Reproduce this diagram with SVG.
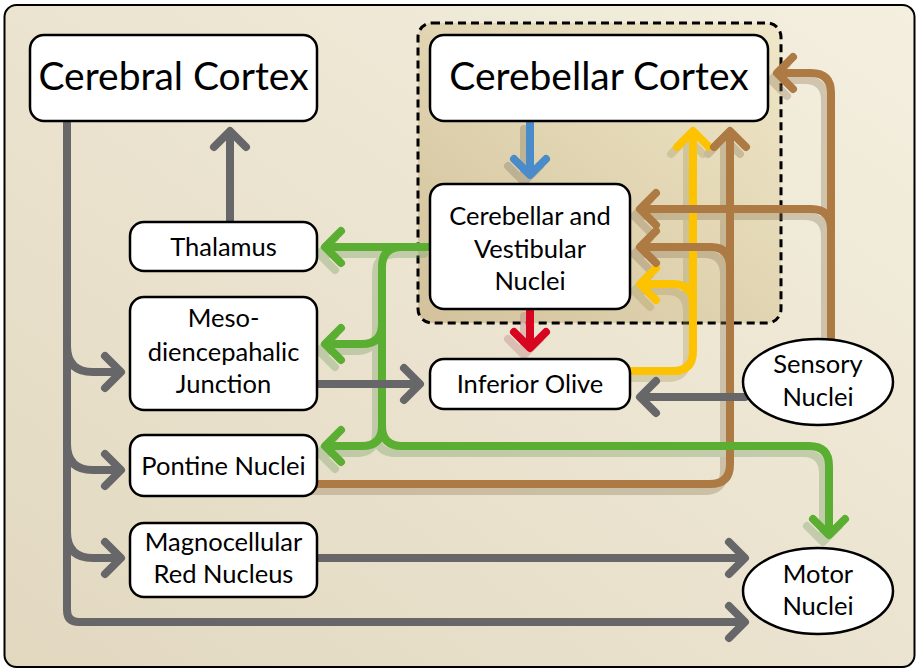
<svg xmlns="http://www.w3.org/2000/svg" xmlns:xlink="http://www.w3.org/1999/xlink" width="917" height="669" viewBox="0 0 917 669">
<defs>
<linearGradient id="bg" x1="0" y1="1" x2="1" y2="0">
<stop offset="0" stop-color="#e2d8c0"/>
<stop offset="1" stop-color="#f4efdf"/>
</linearGradient>
<linearGradient id="cb" x1="0" y1="1" x2="1" y2="0">
<stop offset="0" stop-color="#d3c29c"/>
<stop offset="1" stop-color="#efe7c8"/>
</linearGradient>
<path id="b1" d="M530,122 V173 M514,159 L530,175 L546,159"/>
<path id="r1" d="M530,309 V346 M514,332 L530,348 L546,332"/>
<path id="y1" d="M630,371 H673 Q693,371 693,351 V133 M677,147 L693,131 L709,147"/>
<path id="y2" d="M693,304 Q693,284 673,284 H642 M656,268 L640,284 L656,300"/>
<path id="br1" d="M317,484 H710 Q730,484 730,464 V133 M714,147 L730,131 L746,147"/>
<path id="br2" d="M730,267 Q730,247 710,247 H642 M656,231 L640,247 L656,263"/>
<path id="br3" d="M831,345 V93 Q831,73 811,73 H779 M793,57 L777,73 L793,89"/>
<path id="br4" d="M831,229 Q831,209 811,209 H642 M656,193 L640,209 L656,225"/>
<path id="g1" d="M430,247 H327 M341,231 L325,247 L341,263"/>
<path id="g2" d="M402,247 Q382,247 382,267 V426 Q382,446 402,446 H809 Q829,446 829,466 V533 M813,519 L829,535 L845,519"/>
<path id="g3" d="M382,324 Q382,344 362,344 H327 M341,328 L325,344 L341,360"/>
<path id="g4" d="M382,426 Q382,446 362,446 H327 M341,430 L325,446 L341,462"/>
</defs>
<style>
.frame{fill:url(#bg);stroke:#000;stroke-width:2}
.cbox{fill:url(#cb);stroke:#000;stroke-width:3;stroke-dasharray:8 5}
.node rect,.node ellipse{fill:#fff;stroke:#000;stroke-width:2.5}
.node text{font-family:Lato,"Open Sans",sans-serif;fill:#000;text-anchor:middle}
.big{font-size:39px}
.sm{font-size:25.5px}
#connectors path,#connectors use{fill:none;stroke-width:8;stroke-linecap:round;stroke-linejoin:round}
.gray{stroke:#67676a}
.blue{stroke:#4a8bc9}
.red{stroke:#d7051f}
.yel{stroke:#fdc300}
.brn{stroke:#ad7a43}
.grn{stroke:#5aae32}
.sh{opacity:0.33}
.shb{stroke:#7c7460}
.shg{stroke:#6f9c5c}
.shy{stroke:#a89a58}
.shn{stroke:#8c7654}
.shr{stroke:#b8707a}
</style>
<rect class="frame" x="4.5" y="5" width="910" height="662" rx="12"/>
<rect id="cerebellum-group" class="cbox" x="418" y="23" width="363" height="300" rx="14"/>
<g id="connectors">
<g class="sh" transform="translate(-6,7)">
<use xlink:href="#b1" class="shb"/>
<use xlink:href="#r1" class="shr"/>
<use xlink:href="#y1" class="shy"/>
<use xlink:href="#y2" class="shy"/>
<use xlink:href="#br1" class="shn"/>
<use xlink:href="#br2" class="shn"/>
<use xlink:href="#br3" class="shn"/>
<use xlink:href="#br4" class="shn"/>
<use xlink:href="#g1" class="shg"/>
<use xlink:href="#g2" class="shg"/>
<use xlink:href="#g3" class="shg"/>
<use xlink:href="#g4" class="shg"/>
</g>
<use xlink:href="#y1" class="yel"/>
<use xlink:href="#y2" class="yel"/>
<use xlink:href="#br1" class="brn"/>
<use xlink:href="#br2" class="brn"/>
<use xlink:href="#br3" class="brn"/>
<use xlink:href="#br4" class="brn"/>
<use xlink:href="#g1" class="grn"/>
<use xlink:href="#g2" class="grn"/>
<use xlink:href="#g3" class="grn"/>
<use xlink:href="#g4" class="grn"/>
<use xlink:href="#b1" class="blue"/>
<use xlink:href="#r1" class="red"/>
<path class="gray" d="M67,122 V610 Q67,622 79,622 H743 M729,606 L745,622 L729,638"/>
<path class="gray" d="M67,346 Q67,372 93,372 H119 M105,356 L121,372 L105,388"/>
<path class="gray" d="M67,444 Q67,470 93,470 H119 M105,454 L121,470 L105,486"/>
<path class="gray" d="M67,532 Q67,558 93,558 H119 M105,542 L121,558 L105,574"/>
<path class="gray" d="M230,222 V133 M214,147 L230,131 L246,147"/>
<path class="gray" d="M317,384 H418 M404,368 L420,384 L404,400"/>
<path class="gray" d="M317,558 H743 M729,542 L745,558 L729,574"/>
<path class="gray" d="M745,397 H642 M656,381 L640,397 L656,413"/>
</g>
<g id="cerebral-cortex" class="node">
<rect x="30" y="35" width="287" height="86" rx="14"/>
<text class="big" x="173.5" y="90">Cerebral Cortex</text>
</g>
<g id="cerebellar-cortex" class="node">
<rect x="430" y="35" width="338" height="86" rx="14"/>
<text class="big" x="599" y="90">Cerebellar Cortex</text>
</g>
<g id="cerebellar-vestibular-nuclei" class="node">
<rect x="430" y="184" width="200" height="125" rx="14"/>
<text class="sm" x="530" y="225">Cerebellar and</text>
<text class="sm" x="530" y="258">Vestibular</text>
<text class="sm" x="530" y="290">Nuclei</text>
</g>
<g id="thalamus" class="node">
<rect x="130" y="222" width="187" height="49" rx="14"/>
<text class="sm" x="223.5" y="256">Thalamus</text>
</g>
<g id="mesodiencephalic-junction" class="node">
<rect x="130" y="297" width="187" height="113" rx="14"/>
<text class="sm" x="223.5" y="327">Meso-</text>
<text class="sm" x="223.5" y="361">diencepahalic</text>
<text class="sm" x="223.5" y="393">Junction</text>
</g>
<g id="pontine-nuclei" class="node">
<rect x="130" y="435" width="187" height="61" rx="14"/>
<text class="sm" x="223.5" y="475">Pontine Nuclei</text>
</g>
<g id="magnocellular-red-nucleus" class="node">
<rect x="130" y="523" width="187" height="74" rx="14"/>
<text class="sm" x="223.5" y="551">Magnocellular</text>
<text class="sm" x="223.5" y="583">Red Nucleus</text>
</g>
<g id="inferior-olive" class="node">
<rect x="430" y="359" width="200" height="50" rx="14"/>
<text class="sm" x="530" y="393">Inferior Olive</text>
</g>
<g id="sensory-nuclei" class="node">
<ellipse cx="818" cy="382" rx="75" ry="43"/>
<text class="sm" x="818" y="373">Sensory</text>
<text class="sm" x="818" y="406">Nuclei</text>
</g>
<g id="motor-nuclei" class="node">
<ellipse cx="818" cy="591" rx="75" ry="43"/>
<text class="sm" x="818" y="583">Motor</text>
<text class="sm" x="818" y="615">Nuclei</text>
</g>
</svg>
